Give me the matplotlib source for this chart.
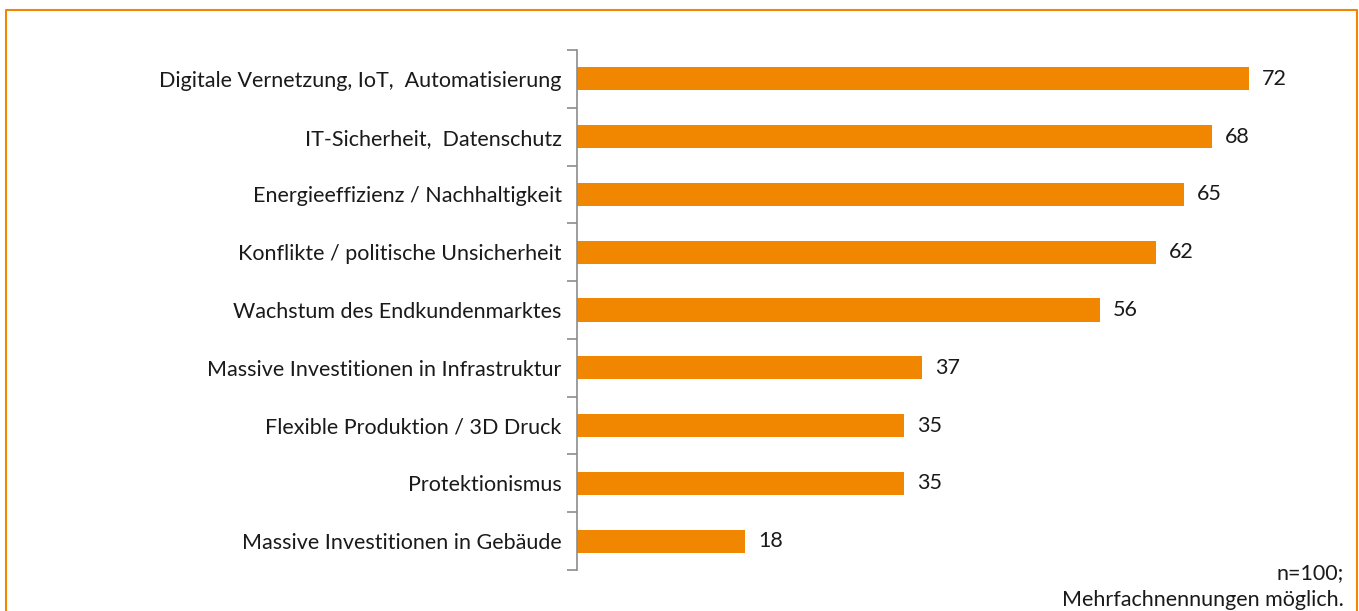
import matplotlib.pyplot as plt
from matplotlib.lines import Line2D

# Zukunftsthemen, Anteil der Nennungen in %
labels = [
    "Digitale Vernetzung, IoT,  Automatisierung",
    "IT-Sicherheit,  Datenschutz",
    "Energieeffizienz / Nachhaltigkeit",
    "Konflikte / politische Unsicherheit",
    "Wachstum des Endkundenmarktes",
    "Massive Investitionen in Infrastruktur",
    "Flexible Produktion / 3D Druck",
    "Protektionismus",
    "Massive Investitionen in Gebäude",
]
values = [72, 68, 65, 62, 56, 37, 35, 35, 18]

orange = "#F18700"
fs = 15.5
plt.rcParams['font.family'] = ['Lato', 'DejaVu Sans']

fig = plt.figure(figsize=(13.59, 6.11), dpi=100)
ax = fig.add_axes([0.4246, 0.0671, 0.5494, 0.8511])

pos = list(range(len(values)))
ax.barh(pos, values, height=0.4, color=orange)
for y, v in zip(pos, values):
    ax.text(v + 1.4, y, str(v), va="center", ha="left", fontsize=fs, color="#1a1a1a")

ax.set_xlim(0, 80)
ax.set_ylim(len(values) - 0.5, -0.5)

# category labels between tick marks at the boundaries
ax.set_yticks(pos)
ax.set_yticklabels(labels, fontsize=fs, color="#1a1a1a")
ax.tick_params(axis="y", length=0, pad=11)
ax.set_yticks([p - 0.5 for p in pos] + [len(values) - 0.5], minor=True)
ax.tick_params(axis="y", which="minor", length=7, color="#8c8c8c", width=1.2)
ax.set_xticks([])
for s in ["top", "right", "bottom"]:
    ax.spines[s].set_visible(False)
ax.spines["left"].set_color("#8c8c8c")
ax.spines["left"].set_linewidth(1.2)

fig.text(1344 / 1359, 1 - 573 / 611, "n=100;", ha="right", va="center", fontsize=fs, color="#1a1a1a")
fig.text(1344 / 1359, 1 - 600 / 611, "Mehrfachnennungen möglich.", ha="right", va="center",
         fontsize=fs, color="#1a1a1a")

# orange frame
x0, x1, yt = 6 / 1359, 1357 / 1359, 1 - 10 / 611
fig.add_artist(Line2D([x0, x0, x1, x1], [0, yt, yt, 0], color=orange, lw=1.5,
                      transform=fig.transFigure))

fig.savefig("out.png", dpi=100)
